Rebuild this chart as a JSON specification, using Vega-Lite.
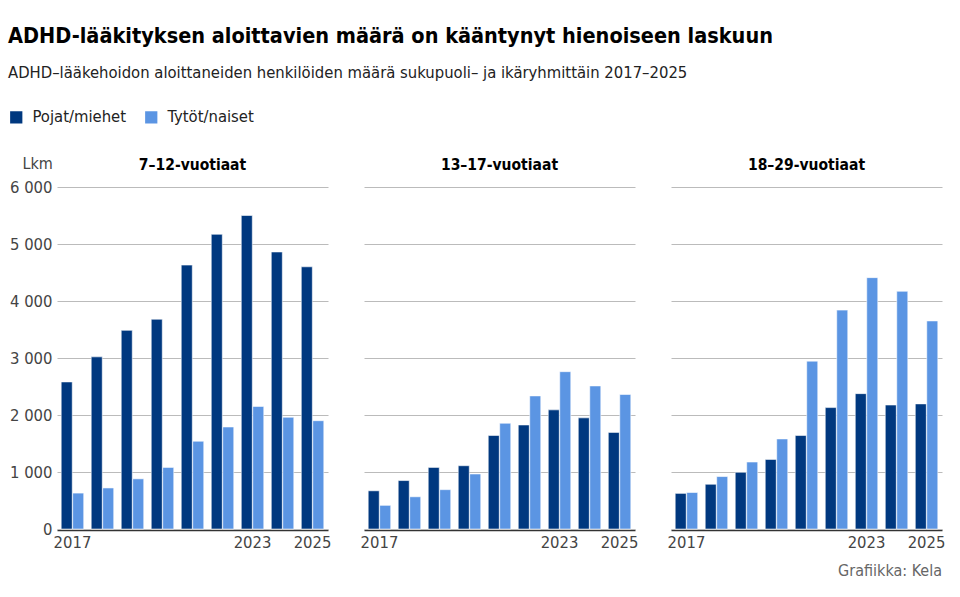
{
  "$schema": "https://vega.github.io/schema/vega-lite/v6.json",
  "padding": {"left": 8, "top": 26, "right": 10, "bottom": 4},
  "title": {
    "text": "ADHD-lääkityksen aloittavien määrä on kääntynyt hienoiseen laskuun",
    "subtitle": "ADHD–lääkehoidon aloittaneiden henkilöiden määrä sukupuoli– ja ikäryhmittäin 2017–2025",
    "anchor": "start",
    "frame": "bounds",
    "font": "DejaVu Sans Condensed, sans-serif",
    "fontSize": 21.5,
    "fontWeight": "bold",
    "color": "#000000",
    "subtitleFont": "DejaVu Sans Condensed, sans-serif",
    "subtitleFontSize": 16.5,
    "subtitleColor": "#222222",
    "subtitlePadding": 17,
    "offset": 28
  },
  "data": {
    "values": [
      {"ika": "7–12-vuotiaat", "vuosi": 2017, "sukupuoli": "Pojat/miehet", "lkm": 2580},
      {"ika": "7–12-vuotiaat", "vuosi": 2018, "sukupuoli": "Pojat/miehet", "lkm": 3020},
      {"ika": "7–12-vuotiaat", "vuosi": 2019, "sukupuoli": "Pojat/miehet", "lkm": 3485},
      {"ika": "7–12-vuotiaat", "vuosi": 2020, "sukupuoli": "Pojat/miehet", "lkm": 3680},
      {"ika": "7–12-vuotiaat", "vuosi": 2021, "sukupuoli": "Pojat/miehet", "lkm": 4630},
      {"ika": "7–12-vuotiaat", "vuosi": 2022, "sukupuoli": "Pojat/miehet", "lkm": 5170},
      {"ika": "7–12-vuotiaat", "vuosi": 2023, "sukupuoli": "Pojat/miehet", "lkm": 5500},
      {"ika": "7–12-vuotiaat", "vuosi": 2024, "sukupuoli": "Pojat/miehet", "lkm": 4860},
      {"ika": "7–12-vuotiaat", "vuosi": 2025, "sukupuoli": "Pojat/miehet", "lkm": 4600},
      {"ika": "7–12-vuotiaat", "vuosi": 2017, "sukupuoli": "Tytöt/naiset", "lkm": 630},
      {"ika": "7–12-vuotiaat", "vuosi": 2018, "sukupuoli": "Tytöt/naiset", "lkm": 720},
      {"ika": "7–12-vuotiaat", "vuosi": 2019, "sukupuoli": "Tytöt/naiset", "lkm": 880},
      {"ika": "7–12-vuotiaat", "vuosi": 2020, "sukupuoli": "Tytöt/naiset", "lkm": 1080},
      {"ika": "7–12-vuotiaat", "vuosi": 2021, "sukupuoli": "Tytöt/naiset", "lkm": 1540},
      {"ika": "7–12-vuotiaat", "vuosi": 2022, "sukupuoli": "Tytöt/naiset", "lkm": 1790},
      {"ika": "7–12-vuotiaat", "vuosi": 2023, "sukupuoli": "Tytöt/naiset", "lkm": 2150},
      {"ika": "7–12-vuotiaat", "vuosi": 2024, "sukupuoli": "Tytöt/naiset", "lkm": 1960},
      {"ika": "7–12-vuotiaat", "vuosi": 2025, "sukupuoli": "Tytöt/naiset", "lkm": 1900},
      {"ika": "13–17-vuotiaat", "vuosi": 2017, "sukupuoli": "Pojat/miehet", "lkm": 670},
      {"ika": "13–17-vuotiaat", "vuosi": 2018, "sukupuoli": "Pojat/miehet", "lkm": 850},
      {"ika": "13–17-vuotiaat", "vuosi": 2019, "sukupuoli": "Pojat/miehet", "lkm": 1080},
      {"ika": "13–17-vuotiaat", "vuosi": 2020, "sukupuoli": "Pojat/miehet", "lkm": 1110},
      {"ika": "13–17-vuotiaat", "vuosi": 2021, "sukupuoli": "Pojat/miehet", "lkm": 1640},
      {"ika": "13–17-vuotiaat", "vuosi": 2022, "sukupuoli": "Pojat/miehet", "lkm": 1825},
      {"ika": "13–17-vuotiaat", "vuosi": 2023, "sukupuoli": "Pojat/miehet", "lkm": 2090},
      {"ika": "13–17-vuotiaat", "vuosi": 2024, "sukupuoli": "Pojat/miehet", "lkm": 1950},
      {"ika": "13–17-vuotiaat", "vuosi": 2025, "sukupuoli": "Pojat/miehet", "lkm": 1695},
      {"ika": "13–17-vuotiaat", "vuosi": 2017, "sukupuoli": "Tytöt/naiset", "lkm": 415},
      {"ika": "13–17-vuotiaat", "vuosi": 2018, "sukupuoli": "Tytöt/naiset", "lkm": 565},
      {"ika": "13–17-vuotiaat", "vuosi": 2019, "sukupuoli": "Tytöt/naiset", "lkm": 690},
      {"ika": "13–17-vuotiaat", "vuosi": 2020, "sukupuoli": "Tytöt/naiset", "lkm": 965},
      {"ika": "13–17-vuotiaat", "vuosi": 2021, "sukupuoli": "Tytöt/naiset", "lkm": 1855},
      {"ika": "13–17-vuotiaat", "vuosi": 2022, "sukupuoli": "Tytöt/naiset", "lkm": 2335},
      {"ika": "13–17-vuotiaat", "vuosi": 2023, "sukupuoli": "Tytöt/naiset", "lkm": 2760},
      {"ika": "13–17-vuotiaat", "vuosi": 2024, "sukupuoli": "Tytöt/naiset", "lkm": 2510},
      {"ika": "13–17-vuotiaat", "vuosi": 2025, "sukupuoli": "Tytöt/naiset", "lkm": 2360},
      {"ika": "18–29-vuotiaat", "vuosi": 2017, "sukupuoli": "Pojat/miehet", "lkm": 625},
      {"ika": "18–29-vuotiaat", "vuosi": 2018, "sukupuoli": "Pojat/miehet", "lkm": 785},
      {"ika": "18–29-vuotiaat", "vuosi": 2019, "sukupuoli": "Pojat/miehet", "lkm": 995},
      {"ika": "18–29-vuotiaat", "vuosi": 2020, "sukupuoli": "Pojat/miehet", "lkm": 1220},
      {"ika": "18–29-vuotiaat", "vuosi": 2021, "sukupuoli": "Pojat/miehet", "lkm": 1640},
      {"ika": "18–29-vuotiaat", "vuosi": 2022, "sukupuoli": "Pojat/miehet", "lkm": 2130},
      {"ika": "18–29-vuotiaat", "vuosi": 2023, "sukupuoli": "Pojat/miehet", "lkm": 2375},
      {"ika": "18–29-vuotiaat", "vuosi": 2024, "sukupuoli": "Pojat/miehet", "lkm": 2175},
      {"ika": "18–29-vuotiaat", "vuosi": 2025, "sukupuoli": "Pojat/miehet", "lkm": 2195},
      {"ika": "18–29-vuotiaat", "vuosi": 2017, "sukupuoli": "Tytöt/naiset", "lkm": 640},
      {"ika": "18–29-vuotiaat", "vuosi": 2018, "sukupuoli": "Tytöt/naiset", "lkm": 920},
      {"ika": "18–29-vuotiaat", "vuosi": 2019, "sukupuoli": "Tytöt/naiset", "lkm": 1175},
      {"ika": "18–29-vuotiaat", "vuosi": 2020, "sukupuoli": "Tytöt/naiset", "lkm": 1580},
      {"ika": "18–29-vuotiaat", "vuosi": 2021, "sukupuoli": "Tytöt/naiset", "lkm": 2945},
      {"ika": "18–29-vuotiaat", "vuosi": 2022, "sukupuoli": "Tytöt/naiset", "lkm": 3840},
      {"ika": "18–29-vuotiaat", "vuosi": 2023, "sukupuoli": "Tytöt/naiset", "lkm": 4410},
      {"ika": "18–29-vuotiaat", "vuosi": 2024, "sukupuoli": "Tytöt/naiset", "lkm": 4170},
      {"ika": "18–29-vuotiaat", "vuosi": 2025, "sukupuoli": "Tytöt/naiset", "lkm": 3650}
    ]
  },
  "facet": {
    "column": {
      "field": "ika",
      "type": "nominal",
      "sort": ["7–12-vuotiaat", "13–17-vuotiaat", "18–29-vuotiaat"],
      "title": "Grafiikka: Kela",
      "header": {
        "labelOrient": "top",
        "labelFont": "DejaVu Sans Condensed, sans-serif",
        "labelFontSize": 15.5,
        "labelFontWeight": "bold",
        "labelColor": "#000000",
        "labelPadding": 14,
        "titleOrient": "bottom",
        "titleAnchor": "end",
        "titleFont": "DejaVu Sans Condensed, sans-serif",
        "titleFontSize": 16,
        "titleFontWeight": "normal",
        "titleColor": "#666666",
        "titlePadding": 2
      }
    }
  },
  "spacing": 36,
  "spec": {
    "width": 271,
    "height": 342,
    "mark": {"type": "bar", "stroke": "#ffffff", "strokeWidth": 0.8, "strokeOpacity": 0.7},
    "encoding": {
      "x": {
        "field": "vuosi",
        "type": "ordinal",
        "title": null,
        "scale": {"paddingInner": 0.25, "paddingOuter": 0.14},
        "axis": {
          "labelAngle": 0,
          "labelExpr": "datum.value == 2017 || datum.value == 2023 || datum.value == 2025 ? datum.label : ''",
          "ticks": false,
          "domainColor": "#333333",
          "domainWidth": 1.5,
          "labelPadding": 4
        }
      },
      "xOffset": {
        "field": "sukupuoli",
        "type": "nominal",
        "sort": ["Pojat/miehet", "Tytöt/naiset"],
        "scale": {"paddingInner": 0.04}
      },
      "y": {
        "field": "lkm",
        "type": "quantitative",
        "scale": {"domain": [0, 6000]},
        "axis": {
          "title": "Lkm",
          "titleAngle": 0,
          "titleAlign": "left",
          "titleBaseline": "alphabetic",
          "titleX": -35,
          "titleY": -19,
          "titleFontWeight": "normal",
          "titleFontSize": 16,
          "titleColor": "#444444",
          "titleFont": "DejaVu Sans Condensed, sans-serif",
          "values": [0, 1000, 2000, 3000, 4000, 5000, 6000],
          "labelExpr": "replace(format(datum.value, ','), ',', ' ')",
          "ticks": false,
          "domain": false,
          "labelPadding": 5,
          "gridColor": "#bbbbbb",
          "gridWidth": 1
        }
      },
      "color": {
        "field": "sukupuoli",
        "type": "nominal",
        "sort": ["Pojat/miehet", "Tytöt/naiset"],
        "scale": {"domain": ["Pojat/miehet", "Tytöt/naiset"], "range": ["#00387f", "#5b95e3"]},
        "legend": {
          "title": null,
          "orient": "none",
          "direction": "horizontal",
          "legendX": -49,
          "legendY": -78,
          "symbolType": "square",
          "symbolSize": 150,
          "symbolStrokeWidth": 0,
          "symbolOpacity": 1,
          "labelFont": "DejaVu Sans Condensed, sans-serif",
          "labelFontSize": 16.5,
          "labelColor": "#222222",
          "columnPadding": 16,
          "labelOffset": 8
        }
      }
    }
  },
  "config": {
    "view": {"stroke": null},
    "axis": {
      "labelFont": "DejaVu Sans Condensed, sans-serif",
      "labelFontSize": 16.5,
      "labelColor": "#444444"
    }
  }
}
